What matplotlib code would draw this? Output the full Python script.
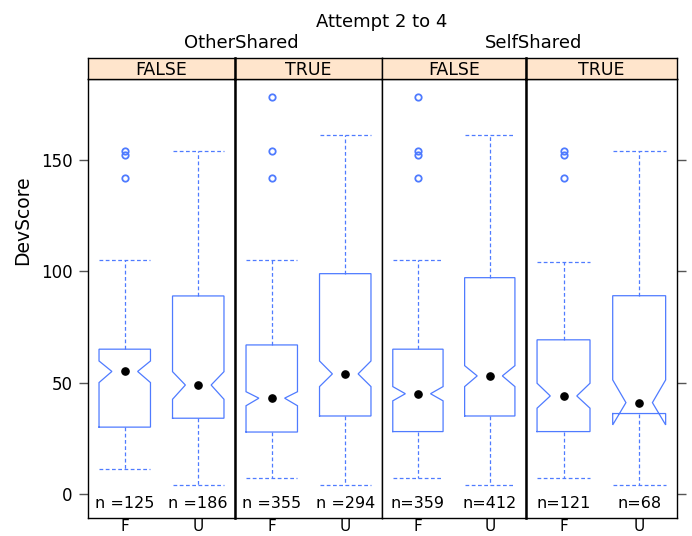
import matplotlib
matplotlib.use("Agg")
import matplotlib.pyplot as plt

# box statistics per panel, groups F and U
groups = ["F", "U"]
share_type = ["OtherShared", "OtherShared", "SelfShared", "SelfShared"]
share_flag = ["FALSE", "TRUE", "FALSE", "TRUE"]

q1 = [[30.0, 34.0], [27.8, 35.0], [28.0, 35.0], [28.0, 36.1]]
q3 = [[65.0, 88.9], [66.9, 98.9], [65.0, 97.1], [69.2, 89.0]]
med = [[55.0, 48.9], [43.0, 53.9], [45.0, 53.0], [44.0, 41.0]]
ci_lo = [[50.0, 42.5], [39.6, 48.2], [41.8, 48.2], [38.5, 31.0]]
ci_hi = [[59.7, 54.9], [45.9, 59.7], [48.2, 57.6], [49.7, 51.2]]
whis_lo = [[11.0, 4.0], [7.0, 4.0], [7.0, 4.0], [7.0, 4.0]]
whis_hi = [[105.0, 154.0], [105.0, 161.0], [105.0, 161.0], [104.0, 154.0]]
fliers = [[[142, 152, 154], []],
          [[142, 154, 178], []],
          [[142, 152, 154, 178], []],
          [[142, 152, 154], []]]
counts = [[125, 186], [355, 294], [359, 412], [121, 68]]
n_fmt = ["n ={}", "n ={}", "n={}", "n={}"]

yticks = [0, 50, 100, 150]

BLUE = "#4f7bff"
STRIP_BG = "#ffe5cc"

W, H = 692, 536
fig = plt.figure(figsize=(W / 100, H / 100), dpi=100)

def fx(px):
    return px / W

def fy(py):
    return 1 - py / H

edges = [88, 235, 382, 525.7, 677]
panel_top, panel_bot = 79, 518
strip_top = 58

half = 0.35

for i in range(4):
    x0, x1 = edges[i], edges[i + 1]
    ax = fig.add_axes([fx(x0), fy(panel_bot), fx(x1 - x0), (panel_bot - panel_top) / H])
    ax.set_xlim(0.5, 2.5)
    ax.set_ylim(-10.8, 186.3)
    for sp in ax.spines.values():
        sp.set_linewidth(1.0)
        sp.set_color("black")
    # heavier dividers inside each share type pair
    if i in (1, 3):
        ax.spines["left"].set_linewidth(1.8)

    for j in range(2):
        c = j + 1
        h = half
        xs = [c - h, c - h, c - h / 2, c - h, c - h, c + h, c + h, c + h / 2, c + h, c + h, c - h]
        ys = [q1[i][j], ci_lo[i][j], med[i][j], ci_hi[i][j], q3[i][j],
              q3[i][j], ci_hi[i][j], med[i][j], ci_lo[i][j], q1[i][j], q1[i][j]]
        ax.plot(xs, ys, color=BLUE, lw=0.9, solid_joinstyle="miter")
        dash = (0, (3, 2))
        ax.plot([c, c], [q3[i][j], whis_hi[i][j]], color=BLUE, lw=0.9, ls=dash)
        ax.plot([c, c], [q1[i][j], whis_lo[i][j]], color=BLUE, lw=0.9, ls=dash)
        ax.plot([c - h, c + h], [whis_hi[i][j]] * 2, color=BLUE, lw=0.9, ls=dash)
        ax.plot([c - h, c + h], [whis_lo[i][j]] * 2, color=BLUE, lw=0.9, ls=dash)
        if fliers[i][j]:
            ax.plot([c] * len(fliers[i][j]), fliers[i][j], "o", ms=4.6,
                    mfc="none", mec=BLUE, mew=1.3)
        ax.plot([c], [med[i][j]], "o", ms=5.2, color="black")
        ax.text(c, -4.3, n_fmt[i].format(counts[i][j]), ha="center", va="center",
                fontsize=11.5)

    ax.set_xticks([1, 2])
    ax.set_xticklabels(groups, fontsize=11)
    ax.tick_params(axis="x", length=0, pad=0.8)
    ax.set_yticks(yticks)
    if i == 0:
        ax.tick_params(axis="y", left=True, right=False, labelleft=True,
                       length=6.5, width=1, color="#555555", pad=4.5, labelsize=12)
    elif i == 3:
        ax.tick_params(axis="y", left=False, right=True, labelleft=False,
                       length=6.5, width=1, color="#555555")
    else:
        ax.tick_params(axis="y", left=False, labelleft=False)

    # strip above each panel
    sax = fig.add_axes([fx(x0), fy(panel_top), fx(x1 - x0), (panel_top - strip_top) / H])
    sax.set_facecolor(STRIP_BG)
    sax.set_xticks([])
    sax.set_yticks([])
    for sp in sax.spines.values():
        sp.set_linewidth(1.0)
        sp.set_color("black")
    if i in (1, 3):
        sax.spines["left"].set_linewidth(1.8)
    sax.text(0.5, 0.45, share_flag[i], ha="center", va="center", fontsize=12.5,
             transform=sax.transAxes)

# outer strip labels for each share type
fig.text(fx(241), fy(48.3), share_type[0], ha="center", va="baseline", fontsize=13)
fig.text(fx(534), fy(48.3), share_type[2], ha="center", va="baseline", fontsize=13)

fig.text(fx(382), fy(26.7), "Attempt 2 to 4", ha="center", va="baseline", fontsize=13)

fig.text(fx(23), fy(220.5), "DevScore", rotation=90, ha="center", va="center",
         fontsize=13.5)

fig.savefig("out.png", dpi=100)
